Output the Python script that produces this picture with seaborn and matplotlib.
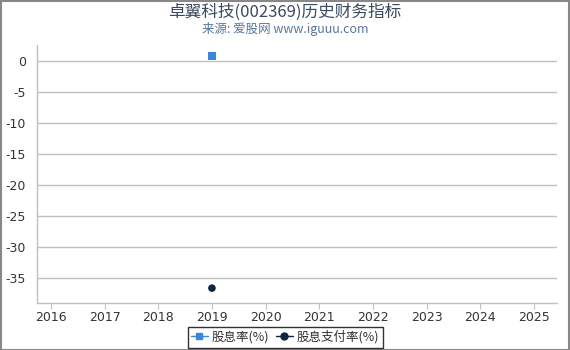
import matplotlib
matplotlib.use("Agg")
import matplotlib.pyplot as plt
import seaborn as sns
import pandas as pd
from matplotlib.lines import Line2D
from matplotlib.patches import Rectangle

years = [2019]
dividend_yield = [0.8]
payout_ratio = [-36.6]
x_ticks = list(range(2016, 2026))
y_ticks = [0, -5, -10, -15, -20, -25, -30, -35]
title = "卓翼科技(002369)历史财务指标"
subtitle = "来源: 爱股网 www.iguuu.com"
label_a = "股息率(%)"
label_b = "股息支付率(%)"

sns.set_style("white")
plt.rcParams['font.family'] = ['Noto Sans CJK SC', 'DejaVu Sans']

df_a = pd.DataFrame({"year": years, "v": dividend_yield})
df_b = pd.DataFrame({"year": years, "v": payout_ratio})

fig = plt.figure(figsize=(5.7, 3.5), dpi=100)
ax = fig.add_axes([37/570, 1-303/350, (557-37)/570, (303-45)/350])

sns.scatterplot(data=df_a, x="year", y="v", marker="s", color="#3a87d9", s=30,
                edgecolor="none", ax=ax, zorder=3)
sns.scatterplot(data=df_b, x="year", y="v", marker="o", color="#0f2540", s=30,
                edgecolor="none", ax=ax, zorder=3)

ax.set_xlim(2015.74, 2025.43)
ax.set_ylim(-39.0, 2.6)
ax.set_xticks(x_ticks)
ax.set_xticklabels([str(x) for x in x_ticks], family=['DejaVu Sans'], fontsize=9, color="#333333")
ax.set_yticks(y_ticks)
ax.set_yticklabels([str(y) for y in y_ticks], family=['DejaVu Sans'], fontsize=9, color="#333333")
ax.set_xlabel("")
ax.set_ylabel("")
ax.grid(axis="y", color="#c0c0c0", linewidth=1)
ax.set_axisbelow(True)
for s in ["top", "right"]:
    ax.spines[s].set_visible(False)
for s in ["left", "bottom"]:
    ax.spines[s].set_color("#c0c0c0")
    ax.spines[s].set_linewidth(1)
ax.tick_params(axis="x", length=4, color="#c0c0c0", pad=2, bottom=True)
ax.tick_params(axis="y", length=0, pad=8, left=True)

fig.text(0.5, 0.965, title, ha="center", va="center", fontsize=12, color="#3a4a60")
fig.text(0.5, 0.918, subtitle, ha="center", va="center", fontsize=9, color="#5a7599")

handles = [
    Line2D([0], [0], color="#3a87d9", marker="s", markersize=5, linewidth=1, label=label_a),
    Line2D([0], [0], color="#0f2540", marker="o", markersize=5, linewidth=1, label=label_b),
]
leg = fig.legend(handles=handles, loc="center", bbox_to_anchor=(0.5, 1-337/350), ncol=2,
                 frameon=True, fontsize=9, handlelength=1.3, handletextpad=0.3,
                 columnspacing=0.6, borderpad=0.3, fancybox=False)
leg.get_frame().set_edgecolor("black")
leg.get_frame().set_linewidth(1)
for t in leg.get_texts():
    t.set_color("#333333")

fig.patches.append(Rectangle((0.001, 0.001), 0.997, 0.997, transform=fig.transFigure,
                             fill=False, edgecolor="#888888", linewidth=1.5))

fig.savefig("out.png", dpi=100)
